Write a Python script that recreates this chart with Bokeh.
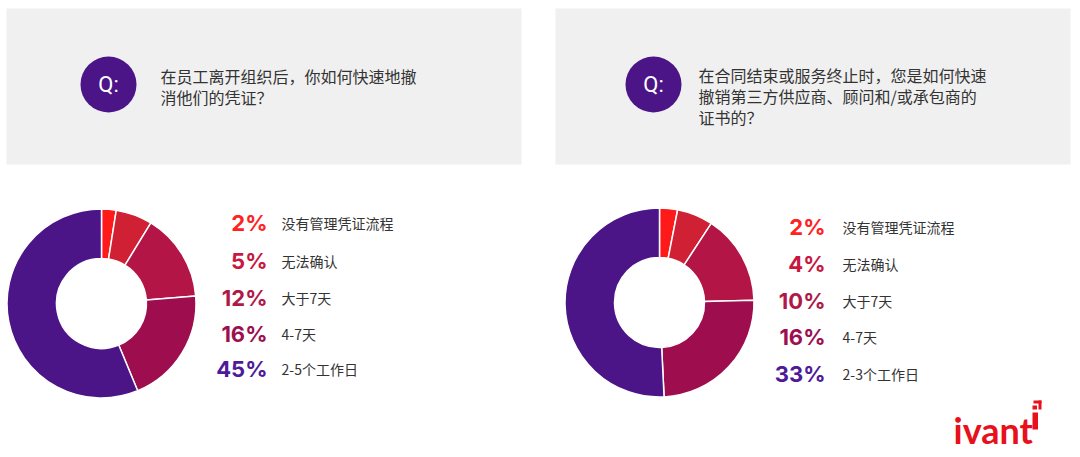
import math
from bokeh.plotting import figure
from bokeh.models import Range1d
from bokeh.core.properties import value
from bokeh.embed import file_html
from bokeh.resources import INLINE

# ---- data ----
categories_left = ["没有管理凭证流程", "无法确认", "大于7天", "4-7天", "2-5个工作日"]
values_left = [2, 5, 12, 16, 45]
categories_right = ["没有管理凭证流程", "无法确认", "大于7天", "4-7天", "2-3个工作日"]
values_right = [2, 4, 10, 16, 33]
question_left = ["在员工离开组织后，你如何快速地撤", "消他们的凭证？"]
question_right = ["在合同结束或服务终止时，您是如何快速", "撤销第三方供应商、顾问和/或承包商的", "证书的？"]
colors = ["#FF1A1A", "#D02034", "#B21546", "#9E0E4E", "#4B1587"]
pct_colors = ["#FF2222", "#C8183F", "#B01848", "#9C1050", "#4E1A9A"]

W, H = 1080, 457
p = figure(width=W, height=H, output_backend="svg", toolbar_location=None,
           x_range=Range1d(0, W), y_range=Range1d(0, H), min_border=0)
p.axis.visible = False
p.grid.visible = False
p.outline_line_color = None
p.background_fill_color = "white"
p.border_fill_color = "white"

def Y(py):
    return H - py

CJK = value("Noto Sans CJK SC")

# grey boxes
p.quad(left=[6, 555], right=[521, 1070], top=[Y(8), Y(8)], bottom=[Y(164), Y(164)],
       fill_color="#F0F0F0", line_color=None)
# Q circles
p.circle(x=[108, 653], y=[Y(84), Y(84)], radius=28, fill_color="#4B1587", line_color=None)
p.text(x=[108, 653], y=[Y(84), Y(84)], text=["Q:", "Q:"], text_color="white",
       text_font=value("Roboto"), text_font_size="22px", text_align="center",
       text_baseline="middle")

# questions
for i, line in enumerate(question_left):
    p.text(x=[160], y=[Y(75 + 21 * i)], text=[line], text_font=CJK, text_font_size="16px",
           text_color="#333333", text_baseline="middle")
for i, line in enumerate(question_right):
    p.text(x=[698], y=[Y(74 + 21 * i)], text=[line], text_font=CJK, text_font_size="16px",
           text_color="#333333", text_baseline="middle")

def donut(cx, cy, vals):
    tot = sum(vals)
    cum = 0
    starts, ends = [], []
    for v in vals:
        starts.append(math.pi / 2 - cum / tot * 2 * math.pi)
        cum += v
        ends.append(math.pi / 2 - cum / tot * 2 * math.pi)
    p.annular_wedge(x=cx, y=Y(cy), inner_radius=45, outer_radius=94.5,
                    start_angle=starts, end_angle=ends, direction="clock",
                    fill_color=colors, line_color="white", line_width=1.5)

donut(101, 303, values_left)
donut(659, 302, values_right)

def legend(xp, xl, ys, vals, cats):
    p.text(x=[xp] * 5, y=[Y(v) for v in ys], text=[f"{v}%" for v in vals],
           text_color=pct_colors, text_font=value("Inter"), text_font_style="bold",
           text_font_size="22px", text_align="right", text_baseline="middle")
    p.text(x=[xl] * 5, y=[Y(v) for v in ys], text=cats, text_color="#333333",
           text_font=CJK, text_font_size="14px", text_baseline="middle")

legend(267, 281, [222, 260, 297, 333, 368], values_left, categories_left)
legend(825, 842, [226, 263, 300, 336, 373], values_right, categories_right)

# logo: "ivant" + stem of final i + bracket mark as its dot
RED = "#E8111B"
p.text(x=[953], y=[Y(429)], text=["ivant"], text_color=RED,
       text_font=value("Lato"), text_font_style="bold", text_font_size="36px",
       text_baseline="alphabetic")
p.quad(left=[1032], right=[1037.5], top=[Y(412)], bottom=[Y(429)],
       fill_color=RED, line_color=None)
p.quad(left=[1033, 1038], right=[1041, 1041], top=[Y(400), Y(400)], bottom=[Y(403), Y(409)],
       fill_color=RED, line_color=None)
p.quad(left=[1032], right=[1036.5], top=[Y(405)], bottom=[Y(409)],
       fill_color=RED, line_color=None)

open("out.html", "w").write(file_html(p, INLINE))
